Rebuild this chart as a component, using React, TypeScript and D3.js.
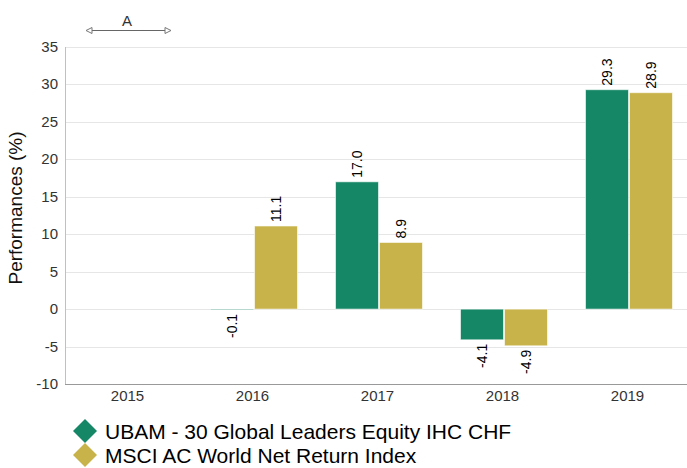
import React, { useRef, useEffect } from "react";
import * as d3 from "d3";

const years = ["2015", "2016", "2017", "2018", "2019"];
const fundValues: (number | null)[] = [null, -0.1, 17.0, -4.1, 29.3];
const indexValues: (number | null)[] = [null, 11.1, 8.9, -4.9, 28.9];
const seriesNames = [
  "UBAM - 30 Global Leaders Equity IHC CHF",
  "MSCI AC World Net Return Index",
];
const seriesColors = ["#168766", "#c7b34a"];
const yTicks = [-10, -5, 0, 5, 10, 15, 20, 25, 30, 35];

const App: React.FC = () => {
  const d3Container = useRef<SVGSVGElement>(null);

  useEffect(() => {
    const height = 468;
    const margin = { top: 47, right: 0, bottom: 85, left: 65 };

    const svg = d3.select(d3Container.current);
    svg.selectChildren().remove();

    const font = "'Liberation Sans', Arial, sans-serif";

    const x = d3
      .scaleBand()
      .domain(years)
      .range([margin.left, 690]);

    const x1 = d3
      .scaleBand()
      .domain(["0", "1"])
      .range([0, 88])
      .padding(0);

    const y = d3
      .scaleLinear()
      .domain([-10, 35])
      .range([height - margin.bottom + 1, margin.top]);

    // Gridlines
    svg
      .append("g")
      .selectAll("line")
      .data(yTicks)
      .join("line")
      .attr("x1", margin.left)
      .attr("x2", 687)
      .attr("y1", (d) => Math.round(y(d)) + 0.5)
      .attr("y2", (d) => Math.round(y(d)) + 0.5)
      .attr("stroke", "#e6e6e6");

    // Y tick labels
    svg
      .append("g")
      .selectAll("text")
      .data(yTicks)
      .join("text")
      .attr("x", 58)
      .attr("y", (d) => y(d) + 5)
      .attr("text-anchor", "end")
      .attr("font-family", font)
      .attr("font-size", 15)
      .attr("fill", "#333")
      .text((d) => d);

    // Axis lines
    svg
      .append("line")
      .attr("x1", margin.left + 0.5)
      .attr("x2", margin.left + 0.5)
      .attr("y1", margin.top)
      .attr("y2", Math.round(y(-10)) + 0.5)
      .attr("stroke", "#c0c0c0");
    svg
      .append("line")
      .attr("x1", margin.left)
      .attr("x2", 687)
      .attr("y1", Math.round(y(-10)) + 0.5)
      .attr("y2", Math.round(y(-10)) + 0.5)
      .attr("stroke", "#999");

    // X tick labels
    svg
      .append("g")
      .selectAll("text")
      .data(years)
      .join("text")
      .attr("x", (d) => (x(d) as number) + x.bandwidth() / 2)
      .attr("y", 401)
      .attr("text-anchor", "middle")
      .attr("font-family", font)
      .attr("font-size", 15)
      .attr("fill", "#333")
      .text((d) => d);

    // Y axis title
    svg
      .append("text")
      .attr("transform", `translate(22,208) rotate(-90)`)
      .attr("text-anchor", "middle")
      .attr("font-family", font)
      .attr("font-size", 19)
      .attr("fill", "#111")
      .text("Performances (%)");

    // Bars
    const series = [fundValues, indexValues];
    series.forEach((vals, si) => {
      const items = years
        .map((yr, i) => ({ yr, v: vals[i] }))
        .filter((d) => d.v !== null) as { yr: string; v: number }[];
      const g = svg.append("g");
      const bx = (d: { yr: string }) =>
        (x(d.yr) as number) + x.bandwidth() / 2 - 42 + (x1(String(si)) as number);

      g.selectAll("rect")
        .data(items)
        .join("rect")
        .attr("x", bx)
        .attr("width", x1.bandwidth() - 1)
        .attr("y", (d) => y(Math.max(0, d.v)))
        .attr("height", (d) => Math.abs(y(d.v) - y(0)))
        .attr("fill", seriesColors[si])
        .attr("stroke", "#ffffff")
        .attr("stroke-opacity", 0.6)
        .attr("stroke-width", 1);

      g.selectAll("text")
        .data(items)
        .join("text")
        .attr("transform", (d) => {
          const cx = bx(d) + x1.bandwidth() / 2 + 4;
          const cy = d.v >= 0 ? y(d.v) - 4 : y(d.v) + 4;
          return `translate(${cx},${cy}) rotate(-90)`;
        })
        .attr("text-anchor", (d) => (d.v >= 0 ? "start" : "end"))
        .attr("font-family", font)
        .attr("font-size", 14)
        .attr("fill", "#000")
        .text((d) => d.v.toFixed(1));
    });

    // Annotation "A" with double-headed arrow
    const ann = svg.append("g");
    ann
      .append("line")
      .attr("x1", 91)
      .attr("x2", 166)
      .attr("y1", 30.5)
      .attr("y2", 30.5)
      .attr("stroke", "#666");
    ann
      .append("path")
      .attr("d", "M86,30.5 L92,27.5 L92,33.5 Z")
      .attr("fill", "#fff")
      .attr("stroke", "#777");
    ann
      .append("path")
      .attr("d", "M171,30.5 L165,27.5 L165,33.5 Z")
      .attr("fill", "#fff")
      .attr("stroke", "#777");
    ann
      .append("text")
      .attr("x", 127)
      .attr("y", 26)
      .attr("text-anchor", "middle")
      .attr("font-family", font)
      .attr("font-size", 15)
      .attr("fill", "#333")
      .text("A");

    // Legend
    const legend = svg
      .append("g")
      .selectAll("g")
      .data(seriesNames)
      .join("g")
      .attr("transform", (_, i) => `translate(85,${431 + i * 24})`);
    legend
      .append("path")
      .attr("d", "M0,-12 L12,0 L0,12 L-12,0 Z")
      .attr("fill", (_, i) => seriesColors[i]);
    legend
      .append("text")
      .attr("x", 20)
      .attr("y", 7.5)
      .attr("font-family", font)
      .attr("font-size", 21)
      .attr("fill", "#000")
      .text((d) => d);
  }, []);

  return (
    <svg
      ref={d3Container}
      width={687}
      height={468}
      style={{ position: "absolute", left: 0, top: 0, background: "#fff" }}
    />
  );
};

export default App;
